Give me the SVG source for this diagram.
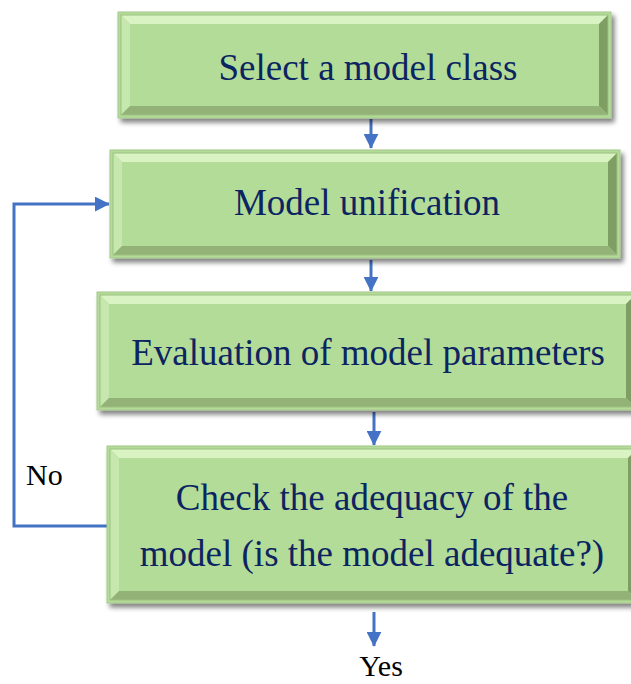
<svg xmlns="http://www.w3.org/2000/svg" width="631" height="684" viewBox="0 0 631 684">
<defs>
<filter id="sh" x="-5%" y="-10%" width="115%" height="130%">
<feGaussianBlur in="SourceAlpha" stdDeviation="2.5"/>
<feOffset dx="3" dy="4" result="o"/>
<feComponentTransfer><feFuncA type="linear" slope="0.5"/></feComponentTransfer>
<feMerge><feMergeNode/><feMergeNode in="SourceGraphic"/></feMerge>
</filter>
<marker id="ah" viewBox="0 0 10 10" refX="9.5" refY="5" markerWidth="15" markerHeight="15" markerUnits="userSpaceOnUse" orient="auto" preserveAspectRatio="none">
<path d="M0,0 L10,5 L0,10 z" fill="#4472c4"/>
</marker>
</defs>
<style>
.face{fill:#b3dc98;stroke:#a6c78c;stroke-width:1}
.hi{fill:#d9f3c3}
.hl{fill:#c6e8ae}
.dr{fill:#7f9e64}
.db{fill:#93b277}
.fr{fill:none;stroke:#9ebf83;stroke-width:1}
.t{font-family:"Liberation Serif","Times New Roman",serif;font-size:37px;fill:#0c2461;text-anchor:middle}
.lbl{font-family:"Liberation Serif","Times New Roman",serif;font-size:30px;fill:#000}
.c{stroke:#4472c4;stroke-width:3;fill:none}
</style>
<g id="connectors">
<path class="c" d="M371,119 L371,148" marker-end="url(#ah)"/>
<path class="c" d="M371,260 L371,291" marker-end="url(#ah)"/>
<path class="c" d="M374,412 L374,445" marker-end="url(#ah)"/>
<path class="c" d="M374,612 L374,646" marker-end="url(#ah)"/>
<path class="c" d="M107,526 L14,526 L14,204 L109,204" marker-end="url(#ah)"/>
</g>
<g id="node1">
<rect class="face" x="118" y="12" width="493" height="106" filter="url(#sh)"/>
<polygon class="hi" points="121,15 608,15 599,24 130,24"/>
<polygon class="hl" points="121,15 130,24 130,106 121,115"/>
<polygon class="dr" points="608,15 608,115 599,106 599,24"/>
<polygon class="db" points="121,115 608,115 599,106 130,106"/>
<rect class="fr" x="121" y="15" width="487" height="100"/>
<text class="t" x="368" y="80">Select a model class</text>
</g>
<g id="node2">
<rect class="face" x="110" y="150" width="510" height="108" filter="url(#sh)"/>
<polygon class="hi" points="113,153 617,153 608,162 122,162"/>
<polygon class="hl" points="113,153 122,162 122,246 113,255"/>
<polygon class="dr" points="617,153 617,255 608,246 608,162"/>
<polygon class="db" points="113,255 617,255 608,246 122,246"/>
<rect class="fr" x="113" y="153" width="504" height="102"/>
<text class="t" x="367" y="215">Model unification</text>
</g>
<g id="node3">
<rect class="face" x="97" y="292" width="541" height="118" filter="url(#sh)"/>
<polygon class="hi" points="100,295 635,295 626,304 109,304"/>
<polygon class="hl" points="100,295 109,304 109,398 100,407"/>
<polygon class="dr" points="635,295 635,407 626,398 626,304"/>
<polygon class="db" points="100,407 635,407 626,398 109,398"/>
<rect class="fr" x="100" y="295" width="535" height="112"/>
<text class="t" x="368" y="365">Evaluation of model parameters</text>
</g>
<g id="node4">
<rect class="face" x="107" y="446" width="533" height="157" filter="url(#sh)"/>
<polygon class="hi" points="110,449 637,449 628,458 119,458"/>
<polygon class="hl" points="110,449 119,458 119,591 110,600"/>
<polygon class="dr" points="637,449 637,600 628,591 628,458"/>
<polygon class="db" points="110,600 637,600 628,591 119,591"/>
<rect class="fr" x="110" y="449" width="527" height="151"/>
<text class="t" x="372" y="510">Check the adequacy of the</text>
<text class="t" x="372" y="566">model (is the model adequate?)</text>
</g>
<text class="lbl" x="26" y="485">No</text>
<text class="lbl" x="381" y="676" text-anchor="middle" font-size="29">Yes</text>
</svg>
